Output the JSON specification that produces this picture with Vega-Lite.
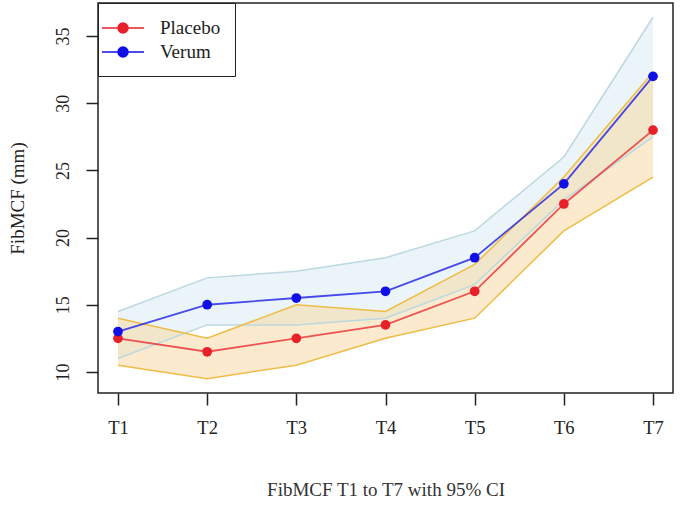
{
  "$schema": "https://vega.github.io/schema/vega-lite/v6.json",
  "width": 575,
  "height": 390,
  "autosize": {"type": "none"},
  "padding": {"left": 98, "top": 3, "right": 12, "bottom": 122},
  "background": "white",
  "config": {
    "view": {"stroke": "#222222", "strokeWidth": 1.5},
    "font": "Liberation Serif"
  },
  "data": {
    "values": [
      {"group": "Placebo", "time": "T1", "mean": 12.5, "lo": 10.5, "hi": 14.0},
      {"group": "Placebo", "time": "T2", "mean": 11.5, "lo": 9.5, "hi": 12.5},
      {"group": "Placebo", "time": "T3", "mean": 12.5, "lo": 10.5, "hi": 15.0},
      {"group": "Placebo", "time": "T4", "mean": 13.5, "lo": 12.5, "hi": 14.5},
      {"group": "Placebo", "time": "T5", "mean": 16.0, "lo": 14.0, "hi": 18.0},
      {"group": "Placebo", "time": "T6", "mean": 22.5, "lo": 20.5, "hi": 24.5},
      {"group": "Placebo", "time": "T7", "mean": 28.0, "lo": 24.5, "hi": 32.3},
      {"group": "Verum", "time": "T1", "mean": 13.0, "lo": 11.0, "hi": 14.5},
      {"group": "Verum", "time": "T2", "mean": 15.0, "lo": 13.5, "hi": 17.0},
      {"group": "Verum", "time": "T3", "mean": 15.5, "lo": 13.5, "hi": 17.5},
      {"group": "Verum", "time": "T4", "mean": 16.0, "lo": 14.0, "hi": 18.5},
      {"group": "Verum", "time": "T5", "mean": 18.5, "lo": 16.5, "hi": 20.5},
      {"group": "Verum", "time": "T6", "mean": 24.0, "lo": 22.8, "hi": 26.0},
      {"group": "Verum", "time": "T7", "mean": 32.0, "lo": 27.5, "hi": 36.4}
    ]
  },
  "encoding": {
    "x": {
      "field": "time",
      "type": "ordinal",
      "scale": {"type": "point", "padding": 0.224},
      "axis": {
        "title": "FibMCF T1 to T7 with 95% CI",
        "labelAngle": 0,
        "domain": false,
        "grid": false,
        "tickSize": 12,
        "tickColor": "#222222",
        "tickWidth": 1.5,
        "labelFont": "Liberation Serif",
        "labelFontSize": 18.5,
        "labelColor": "#222222",
        "labelPadding": 13,
        "titleFont": "Liberation Serif",
        "titleFontSize": 19,
        "titleFontWeight": "normal",
        "titleColor": "#333333",
        "titlePadding": 44
      }
    }
  },
  "layer": [
    {
      "transform": [{"filter": "datum.group === 'Verum'"}],
      "mark": {"type": "area", "color": "#ebf4f8", "opacity": 1},
      "encoding": {
        "y": {
          "field": "lo",
          "type": "quantitative",
          "scale": {"domain": [8.43, 37.46], "nice": false, "zero": false},
          "axis": {
            "title": "FibMCF (mm)",
            "values": [10, 15, 20, 25, 30, 35],
            "grid": false,
            "domain": false,
            "tickSize": 12,
            "tickColor": "#222222",
            "tickWidth": 1.5,
            "labelAngle": 270,
            "labelAlign": "center",
            "labelBaseline": "bottom",
            "labelPadding": 14,
            "labelFont": "Liberation Serif",
            "labelFontSize": 18,
            "labelColor": "#222222",
            "titleFont": "Liberation Serif",
            "titleFontSize": 19,
            "titleFontWeight": "normal",
            "titleColor": "#222222",
            "titlePadding": 27
          }
        },
        "y2": {"field": "hi"}
      }
    },
    {
      "transform": [{"filter": "datum.group === 'Placebo'"}],
      "mark": {"type": "area", "color": "#f8d69c", "opacity": 0.5},
      "encoding": {
        "y": {"field": "lo", "type": "quantitative"},
        "y2": {"field": "hi"}
      }
    },
    {
      "transform": [{"filter": "datum.group === 'Verum'"}],
      "mark": {"type": "line", "color": "#bcd8e0", "strokeWidth": 1.5},
      "encoding": {"y": {"field": "lo", "type": "quantitative"}}
    },
    {
      "transform": [{"filter": "datum.group === 'Verum'"}],
      "mark": {"type": "line", "color": "#bcd8e0", "strokeWidth": 1.5},
      "encoding": {"y": {"field": "hi", "type": "quantitative"}}
    },
    {
      "transform": [{"filter": "datum.group === 'Placebo'"}],
      "mark": {"type": "line", "color": "#eebd45", "strokeWidth": 1.5},
      "encoding": {"y": {"field": "lo", "type": "quantitative"}}
    },
    {
      "transform": [{"filter": "datum.group === 'Placebo'"}],
      "mark": {"type": "line", "color": "#eebd45", "strokeWidth": 1.5},
      "encoding": {"y": {"field": "hi", "type": "quantitative"}}
    },
    {
      "mark": {"type": "line", "strokeWidth": 1.8, "opacity": 0.75},
      "encoding": {
        "y": {"field": "mean", "type": "quantitative"},
        "color": {
          "field": "group",
          "type": "nominal",
          "scale": {"domain": ["Placebo", "Verum"], "range": ["#e8202a", "#1010e6"]}
        }
      }
    },
    {
      "mark": {"type": "point", "filled": true, "opacity": 1, "size": 95},
      "encoding": {
        "y": {"field": "mean", "type": "quantitative"},
        "color": {
          "field": "group",
          "type": "nominal",
          "scale": {"domain": ["Placebo", "Verum"], "range": ["#e8202a", "#1010e6"]},
          "legend": {
            "title": null,
            "orient": "top-left",
            "offset": 0,
            "padding": 14,
            "strokeColor": "#222222",
            "fillColor": "white",
            "symbolType": "M-2.1,0H2.1M-0.5,0A0.5,0.5,0,1,1,0.5,0A0.5,0.5,0,1,1,-0.5,0Z",
            "symbolSize": 400,
            "symbolStrokeWidth": 1.5,
            "symbolOpacity": 1,
            "labelOffset": 26,
            "labelFont": "Liberation Serif",
            "labelFontSize": 19,
            "labelColor": "#222222",
            "rowPadding": 3,
            "encode": {
              "symbols": {
                "update": {
                  "stroke": {"scale": "color", "field": "value"},
                  "fill": {"scale": "color", "field": "value"}
                }
              }
            }
          }
        }
      }
    }
  ]
}
